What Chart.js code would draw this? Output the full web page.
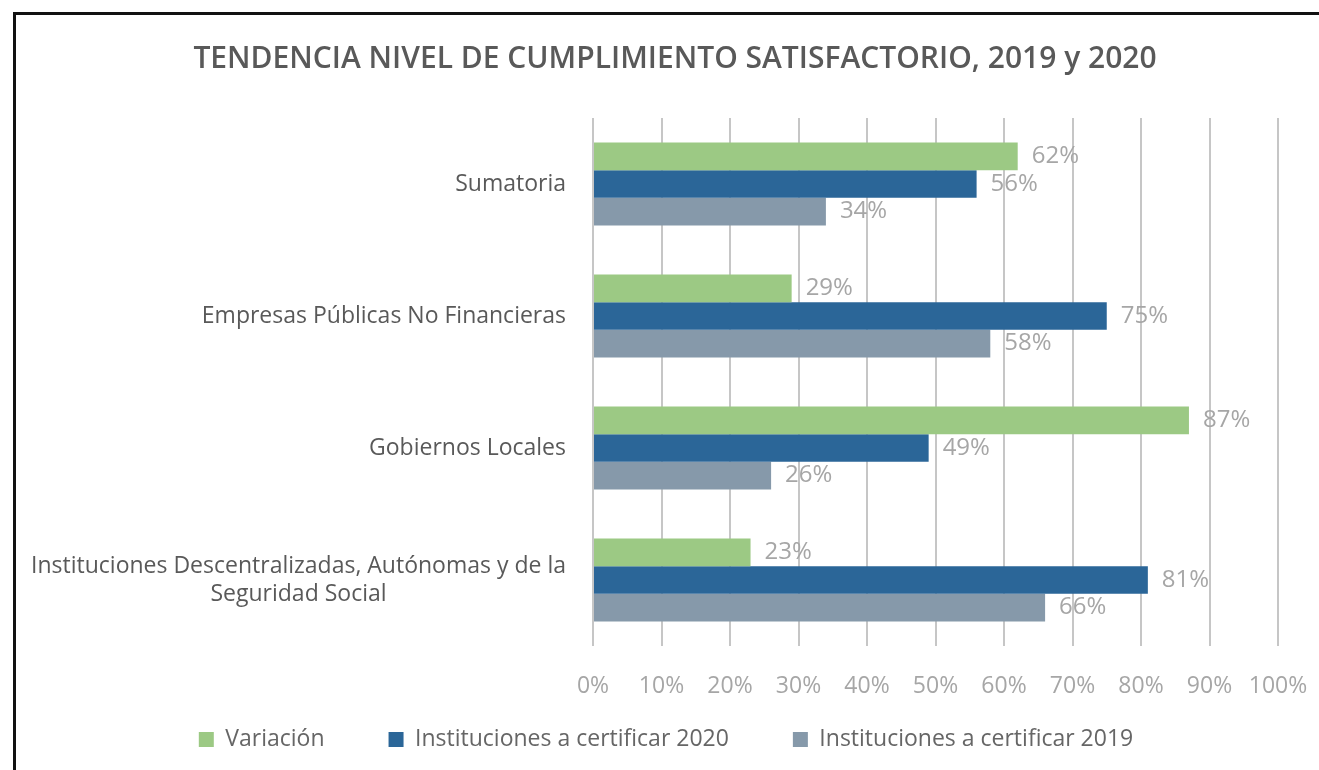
<!DOCTYPE html>
<html>
<head>
<meta charset="utf-8">
<script src="https://cdn.jsdelivr.net/npm/chart.js@4.4.1/dist/chart.umd.min.js"></script>
<style>
    html, body { margin: 0; padding: 0; background: #fff; }
    #wrap { position: relative; width: 1319px; height: 770px; }
    #frame {
        position: absolute; left: 13px; top: 12px; right: 0; bottom: 0;
        border-left: 3px solid #111; border-top: 3px solid #111;
        pointer-events: none;
    }
</style>
</head>
<body>
<div id="wrap">
    <canvas id="cumplimientoChart" width="1319" height="770"></canvas>
    <div id="frame"></div>
</div>
<script>
const categories = [
    'Sumatoria',
    'Empresas Públicas No Financieras',
    'Gobiernos Locales',
    ['Instituciones Descentralizadas, Autónomas y de la', 'Seguridad Social']
];
const variacion = [62, 29, 87, 23];
const certificar2020 = [56, 75, 49, 81];
const certificar2019 = [34, 58, 26, 66];
const tickStep = 10;

const textGrey = '#595959';
const lightGrey = '#a6a6a6';

// value labels at the end of each bar
const valueLabels = {
    id: 'valueLabels',
    afterDatasetsDraw(chart) {
        const ctx = chart.ctx;
        ctx.save();
        ctx.font = '24px "Open Sans"';
        ctx.fillStyle = lightGrey;
        ctx.textAlign = 'left';
        ctx.textBaseline = 'middle';
        chart.data.datasets.forEach((ds, i) => {
            chart.getDatasetMeta(i).data.forEach((bar, j) => {
                ctx.fillText(ds.data[j] + '%', bar.x + 14, bar.y);
            });
        });
        ctx.restore();
    }
};

// category labels: right aligned block, lines centered inside it
const categoryLabels = {
    id: 'categoryLabels',
    afterDraw(chart) {
        const ctx = chart.ctx;
        const yScale = chart.scales.y;
        const right = yScale.right - 27;
        ctx.save();
        ctx.font = '23px "Open Sans"';
        ctx.fillStyle = textGrey;
        ctx.textAlign = 'center';
        ctx.textBaseline = 'middle';
        categories.forEach((label, i) => {
            const lines = Array.isArray(label) ? label : [label];
            const w = Math.max(...lines.map(l => ctx.measureText(l).width));
            const yc = yScale.getPixelForTick(i);
            lines.forEach((l, k) => {
                ctx.fillText(l, right - w / 2, yc + (k - (lines.length - 1) / 2) * 28);
            });
        });
        ctx.restore();
    }
};

// move title and legend like the original layout
// (legend top only, its box is also its clip area)
const shiftBlocks = {
    id: 'shiftBlocks',
    afterLayout(chart) {
        if (chart.titleBlock) {
            chart.titleBlock.left += 36;
            chart.titleBlock.right += 36;
        }
        if (chart.legend) {
            chart.legend.left += 27;
            chart.legend.right += 27;
            chart.legend.top -= 56;
        }
    }
};

const canvasContext = document.getElementById('cumplimientoChart').getContext('2d');

new Chart(canvasContext, {
    type: 'bar',
    data: {
        labels: categories,
        datasets: [
            {
                label: 'Variación',
                data: variacion,
                backgroundColor: '#9cc984',
                borderWidth: 0
            },
            {
                label: 'Instituciones a certificar 2020',
                data: certificar2020,
                backgroundColor: '#2b6698',
                borderWidth: 0
            },
            {
                label: 'Instituciones a certificar 2019',
                data: certificar2019,
                backgroundColor: '#8699aa',
                borderWidth: 0
            }
        ]
    },
    options: {
        indexAxis: 'y',
        responsive: false,
        animation: false,
        categoryPercentage: 0.627,
        barPercentage: 1,
        layout: {
            padding: { left: 0, right: 41, top: 0, bottom: 10 }
        },
        scales: {
            x: {
                min: 0,
                max: 100,
                grid: { color: '#c6c6c6', lineWidth: 2, drawTicks: false },
                border: { display: false },
                ticks: {
                    stepSize: tickStep,
                    padding: 27,
                    color: lightGrey,
                    font: { family: 'Open Sans', size: 23 },
                    callback: v => v + '%'
                },
                afterFit(scale) {
                    scale.height = 74;
                    scale.paddingRight = 0;
                }
            },
            y: {
                grid: { display: false },
                border: { display: false },
                ticks: { display: false },
                afterFit(scale) { scale.width = 593; }
            }
        },
        plugins: {
            title: {
                display: true,
                text: 'TENDENCIA NIVEL DE CUMPLIMIENTO SATISFACTORIO, 2019 y 2020',
                color: textGrey,
                font: { family: 'Open Sans', size: 30, weight: '600' },
                padding: { top: 41, bottom: 41 }
            },
            legend: {
                position: 'bottom',
                maxHeight: 40,
                labels: {
                    color: '#666666',
                    font: { family: 'Open Sans', size: 23 },
                    boxWidth: 15,
                    boxHeight: 15,
                    padding: 64
                }
            },
            tooltip: { enabled: false }
        }
    },
    plugins: [valueLabels, categoryLabels, shiftBlocks]
});
</script>
</body>
</html>
